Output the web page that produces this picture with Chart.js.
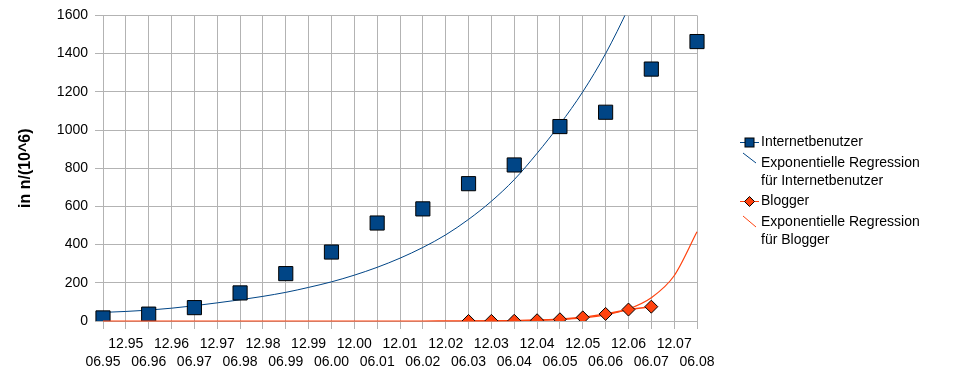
<!DOCTYPE html>
<html>
<head>
<meta charset="utf-8">
<script src="https://cdn.jsdelivr.net/npm/chart.js@4"></script>
<style>
  body { margin: 0; background: #fff; }
  #wrap { width: 959px; height: 386px; }
</style>
</head>
<body>
<div id="wrap"><canvas id="chart-web" width="959" height="386"></canvas></div>
<script>
// Halbjahre 06.95 ... 06.08
const zeitpunkte = ['06.95', '12.95', '06.96', '12.96', '06.97', '12.97', '06.98', '12.98', '06.99', '12.99',
    '06.00', '12.00', '06.01', '12.01', '06.02', '12.02', '06.03', '12.03', '06.04', '12.04',
    '06.05', '12.05', '06.06', '12.06', '06.07', '12.07', '06.08'];

// Internetbenutzer (Mio.), nur Jahresmitte
const internetbenutzer = [16, null, 36, null, 70, null, 147, null, 248, null, 361, null, 513, null, 587, null,
    719, null, 817, null, 1018, null, 1093, null, 1319, null, 1463];

// Blogger (Mio.), ab 06.03
const blogger = [null, null, null, null, null, null, null, null, null, null, null, null, null, null, null, null,
    0.1, 0.6, 1.2, 4, 9, 19, 37, 60, 75, null, null];

// Regressionskurven
const regInternet = [45, 50, 57, 67, 80, 95, 111, 129, 150, 176, 205, 240, 281, 329, 385, 451,
    532, 627, 740, 878, 1030, 1200, 1400, 1640, 1920, 2250, 2630];
const regBlogger = [0, 0, 0, 0, 0, 0, 0, 0, 0, 0, 0, 0, 0, 0, 0, 0.3,
    0.6, 1.1, 2.2, 4.4, 8.5, 16.5, 32, 63, 122, 237, 467];

const yTicks = [0, 200, 400, 600, 800, 1000, 1200, 1400, 1600];

const BLAU = '#004586';
const ORANGE = '#ff420e';
const GRID = '#b3b3b3';
const FONT = '"Liberation Sans", Arial, sans-serif';

// Legende selbst zeichnen (mehrzeilige Einträge)
const legendePlugin = {
    id: 'legende',
    afterDraw(chart) {
        const ctx = chart.ctx;
        ctx.save();
        ctx.font = '14px ' + FONT;
        ctx.fillStyle = '#000';
        ctx.textBaseline = 'middle';
        ctx.textAlign = 'left';
        const tx = 761;

        // Internetbenutzer
        ctx.strokeStyle = BLAU;
        ctx.lineWidth = 1;
        ctx.beginPath(); ctx.moveTo(740, 142.5); ctx.lineTo(759, 142.5); ctx.stroke();
        ctx.fillStyle = BLAU;
        ctx.fillRect(745, 138, 9, 9);
        ctx.strokeStyle = '#000';
        ctx.strokeRect(745, 138, 9, 9);
        ctx.fillStyle = '#000';
        ctx.fillText('Internetbenutzer', tx, 142);

        // Regression Internet
        ctx.strokeStyle = BLAU;
        ctx.beginPath(); ctx.moveTo(743, 153); ctx.lineTo(756, 163); ctx.stroke();
        ctx.fillText('Exponentielle Regression', tx, 163);
        ctx.fillText('für Internetbenutzer', tx, 181);

        // Blogger
        ctx.strokeStyle = ORANGE;
        ctx.beginPath(); ctx.moveTo(740, 201.5); ctx.lineTo(759, 201.5); ctx.stroke();
        ctx.beginPath();
        ctx.moveTo(749.5, 196.5); ctx.lineTo(754.5, 201.5); ctx.lineTo(749.5, 206.5); ctx.lineTo(744.5, 201.5);
        ctx.closePath();
        ctx.fillStyle = ORANGE;
        ctx.fill();
        ctx.strokeStyle = '#000';
        ctx.stroke();
        ctx.fillStyle = '#000';
        ctx.fillText('Blogger', tx, 201);

        // Regression Blogger
        ctx.strokeStyle = ORANGE;
        ctx.beginPath(); ctx.moveTo(743, 216); ctx.lineTo(756, 227); ctx.stroke();
        ctx.fillText('Exponentielle Regression', tx, 222);
        ctx.fillText('für Blogger', tx, 240);
        ctx.restore();
    }
};

new Chart(document.getElementById('chart-web'), {
    type: 'line',
    data: {
        labels: zeitpunkte,
        datasets: [{
            label: 'Blogger',
            data: blogger,
            borderColor: ORANGE,
            backgroundColor: ORANGE,
            borderWidth: 1.5,
            pointStyle: 'rectRot',
            pointRadius: 6.5,
            pointBorderColor: '#000',
            pointBorderWidth: 1,
            pointBackgroundColor: ORANGE,
            order: 0,
        }, {
            label: 'Exponentielle Regression für Blogger',
            data: regBlogger,
            borderColor: ORANGE,
            borderWidth: 1.2,
            pointRadius: 0,
            cubicInterpolationMode: 'monotone',
            clip: 3,
            order: 1,
        }, {
            label: 'Internetbenutzer',
            data: internetbenutzer,
            showLine: false,
            pointStyle: 'rect',
            pointRadius: 10,
            pointBorderColor: '#000',
            pointBorderWidth: 1,
            pointBackgroundColor: BLAU,
            borderColor: BLAU,
            order: 2,
        }, {
            label: 'Exponentielle Regression für Internetbenutzer',
            data: regInternet,
            borderColor: BLAU,
            borderWidth: 1,
            pointRadius: 0,
            cubicInterpolationMode: 'monotone',
            order: 3,
        }],
    },
    options: {
        responsive: false,
        animation: false,
        events: [],
        layout: { padding: { top: 15, right: 262, left: 0, bottom: 0 } },
        plugins: {
            legend: { display: false },
            tooltip: { enabled: false },
        },
        scales: {
            x: {
                offset: false,
                grid: { color: GRID, tickLength: 8, tickColor: GRID },
                border: { color: GRID },
                ticks: {
                    autoSkip: false,
                    minRotation: 0,
                    maxRotation: 0,
                    color: '#000',
                    padding: 6,
                    font: { family: FONT, size: 14, lineHeight: 1.3 },
                    callback: (v, i) => i % 2 === 0 ? ['', zeitpunkte[i]] : [zeitpunkte[i], ''],
                },
                afterFit: scale => { scale.height = 65; },
            },
            y: {
                min: yTicks[0],
                max: yTicks[yTicks.length - 1],
                grid: { color: GRID, tickLength: 8, tickColor: GRID },
                border: { color: GRID },
                afterBuildTicks: scale => { scale.ticks = yTicks.map(v => ({ value: v })); },
                ticks: {
                    color: '#000',
                    padding: 7,
                    font: { family: FONT, size: 14 },
                    callback: v => String(v),
                },
                title: {
                    display: true,
                    text: 'in n/(10^6)',
                    color: '#000',
                    font: { family: FONT, size: 16, weight: 'bold' },
                    padding: { top: 16, bottom: 0 },
                },
                afterFit: scale => { scale.width = 103; },
            },
        },
    },
    plugins: [legendePlugin],
});
</script>
</body>
</html>
